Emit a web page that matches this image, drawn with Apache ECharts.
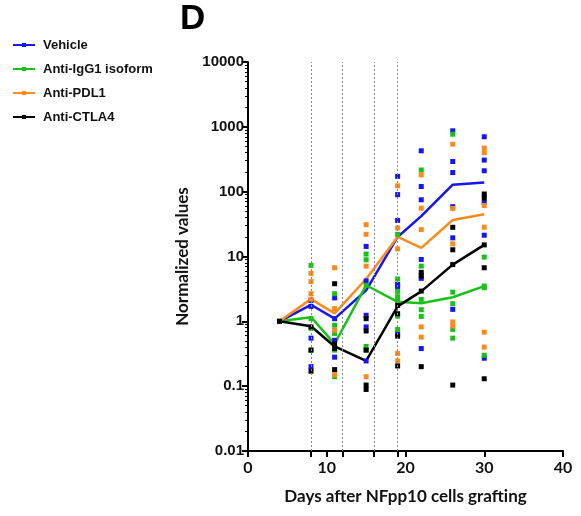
<!DOCTYPE html>
<html>
<head>
<meta charset="utf-8">
<script src="https://cdn.jsdelivr.net/npm/echarts@6/dist/echarts.min.js"></script>
<style>
  html, body { margin: 0; padding: 0; background: #fff; }
  #chart { width: 581px; height: 516px; }
</style>
</head>
<body>
<div id="chart"></div>
<script>
// sampling days
const days = [4, 8, 11, 15, 19, 22, 26, 30];
// treatment days (dotted lines + extra ticks)
const treatDays = [8, 12, 16, 19];
const xTickValues = [0, 8, 10, 12, 16, 19, 20, 30, 40];
const xLabelValues = [0, 10, 20, 30, 40];

// individual mice, one list per sampling day
const vehiclePts = [
  [1], [2.1, 1.7, 0.55, 0.2], [2.3, 1.1, 0.51, 0.28], [14.3, 4.2, 1.24, 0.82, 0.245],
  [172, 90, 36, 3.7, 3.4, 0.66], [427, 120, 75, 9, 4.6, 0.38],
  [868, 292, 197, 58.6, 19.4, 1.53], [702, 307, 210, 68, 21.3, 0.27]
];
const igg1Pts = [
  [1], [7.3, 1.1, 0.78, 0.36], [2.67, 0.87, 0.65, 0.36, 0.14], [10.9, 8.9, 3.6, 0.41, 0.36],
  [22, 4.5, 2.9, 2.4, 2.1, 1.2, 0.75], [216, 7.1, 2.18, 1.51, 1.19],
  [770, 2.82, 1.87, 0.75, 0.55], [9.8, 3.5, 3.3, 0.3]
];
const pdl1Pts = [
  [1], [5.5, 4.1, 2.67, 2.2], [6.7, 1.57, 0.73, 0.15], [31, 22, 7.1, 0.14],
  [123, 27.6, 13.1, 0.32, 0.245], [182, 55.6, 26, 0.82, 0.57],
  [540, 55, 15.7, 0.98, 0.85], [470, 400, 61, 28.3, 0.68, 0.4]
];
const ctla4Pts = [
  [1], [0.82, 0.36, 0.17], [3.8, 0.45, 0.38, 0.18], [1.1, 0.71, 0.36, 0.104, 0.089],
  [1.76, 1.31, 0.59, 0.205], [5.7, 5, 2.93, 0.2],
  [28.2, 12.7, 7.5, 0.104], [92, 80, 15.1, 6.7, 0.13]
];

// group means (lines)
const vehicleMean = [1, 1.8, 1.1, 3.0, 20, 42, 128, 139];
const igg1Mean = [1, 1.16, 0.45, 3.6, 2.0, 1.9, 2.35, 3.5];
const pdl1Mean = [1, 2.2, 1.33, 4.5, 20, 13.6, 36.6, 45];
const ctla4Mean = [1, 0.84, 0.41, 0.245, 1.7, 2.9, 7.5, 15.1];

const groups = [
  { name: 'Vehicle', color: '#1414f5', pts: vehiclePts, mean: vehicleMean },
  { name: 'Anti-IgG1 isoform', color: '#17c217', pts: igg1Pts, mean: igg1Mean },
  { name: 'Anti-PDL1', color: '#ff8a1c', pts: pdl1Pts, mean: pdl1Mean },
  { name: 'Anti-CTLA4', color: '#000000', pts: ctla4Pts, mean: ctla4Mean }
];

const legendIcon = 'path://M0,3L22,3L22,5L0,5Z M9,2L13,2L13,6L9,6Z';

let series = [];
groups.forEach((g) => {
  series.push({
    name: g.name,
    type: 'line',
    data: days.map((d, i) => [d, g.mean[i]]),
    symbol: 'none',
    z: 2,
    lineStyle: { color: g.color, width: 2.5 },
    itemStyle: { color: g.color }
  });
});
groups.forEach((g) => {
  let pts = [];
  g.pts.forEach((vals, i) => vals.forEach((v) => pts.push([days[i], v])));
  series.push({
    name: g.name,
    type: 'scatter',
    data: pts,
    symbol: 'rect',
    symbolSize: 5,
    z: 3,
    itemStyle: { color: g.color, opacity: 1 }
  });
});
// dotted treatment lines
series.push({
  type: 'line',
  data: [],
  markLine: {
    silent: true,
    symbol: 'none',
    label: { show: false },
    lineStyle: { color: '#888', type: [2, 2], width: 1 },
    data: treatDays.map((d) => ({ xAxis: d }))
  }
});

const chart = echarts.init(document.getElementById('chart'));
chart.setOption({
  animation: false,
  title: {
    text: 'D', left: 175, top: -3,
    textStyle: { fontFamily: 'Liberation Sans', fontWeight: 'bold', fontSize: 35, color: '#000' }
  },
  legend: {
    orient: 'vertical', left: 8, top: 33,
    itemWidth: 22, itemHeight: 8, itemGap: 10,
    data: groups.map((g) => ({ name: g.name, icon: legendIcon })),
    textStyle: { fontFamily: 'Liberation Sans', fontWeight: 'bold', fontSize: 13, color: '#111', lineHeight: 14, padding: [0, 0, 0, 3] }
  },
  grid: { left: 248, right: 18, top: 62, bottom: 65, containLabel: false },
  xAxis: {
    type: 'value', min: 0, max: 40, interval: 10,
    name: 'Days after NFpp10 cells grafting',
    nameLocation: 'middle', nameGap: 37,
    nameTextStyle: { fontFamily: 'Lato', fontWeight: 'bold', fontSize: 17, color: '#111' },
    splitLine: { show: false },
    axisLine: { lineStyle: { color: '#000', width: 2 } },
    axisTick: { length: 6, lineStyle: { color: '#000', width: 2 }, customValues: xTickValues },
    axisLabel: { fontFamily: 'Lato', fontWeight: 'bold', fontSize: 16, color: '#111', margin: 9, customValues: xLabelValues }
  },
  yAxis: {
    type: 'log', logBase: 10, min: 0.01, max: 10000,
    name: 'Normalized values',
    nameLocation: 'middle', nameGap: 54,
    nameTextStyle: { fontFamily: 'Lato', fontWeight: 'bold', fontSize: 17, color: '#111' },
    splitLine: { show: false },
    axisLine: { lineStyle: { color: '#000', width: 2 } },
    axisTick: { length: 6, lineStyle: { color: '#000', width: 2 } },
    minorTick: { show: true, splitNumber: 9, length: 3, lineStyle: { color: '#000', width: 1 } },
    axisLabel: {
      fontFamily: 'Liberation Sans', fontWeight: 'bold', fontSize: 15, color: '#111', margin: 4,
      formatter: (v) => String(v)
    }
  },
  series: series
});
window.addEventListener('resize', function () { chart.resize(); });
</script>
</body>
</html>
